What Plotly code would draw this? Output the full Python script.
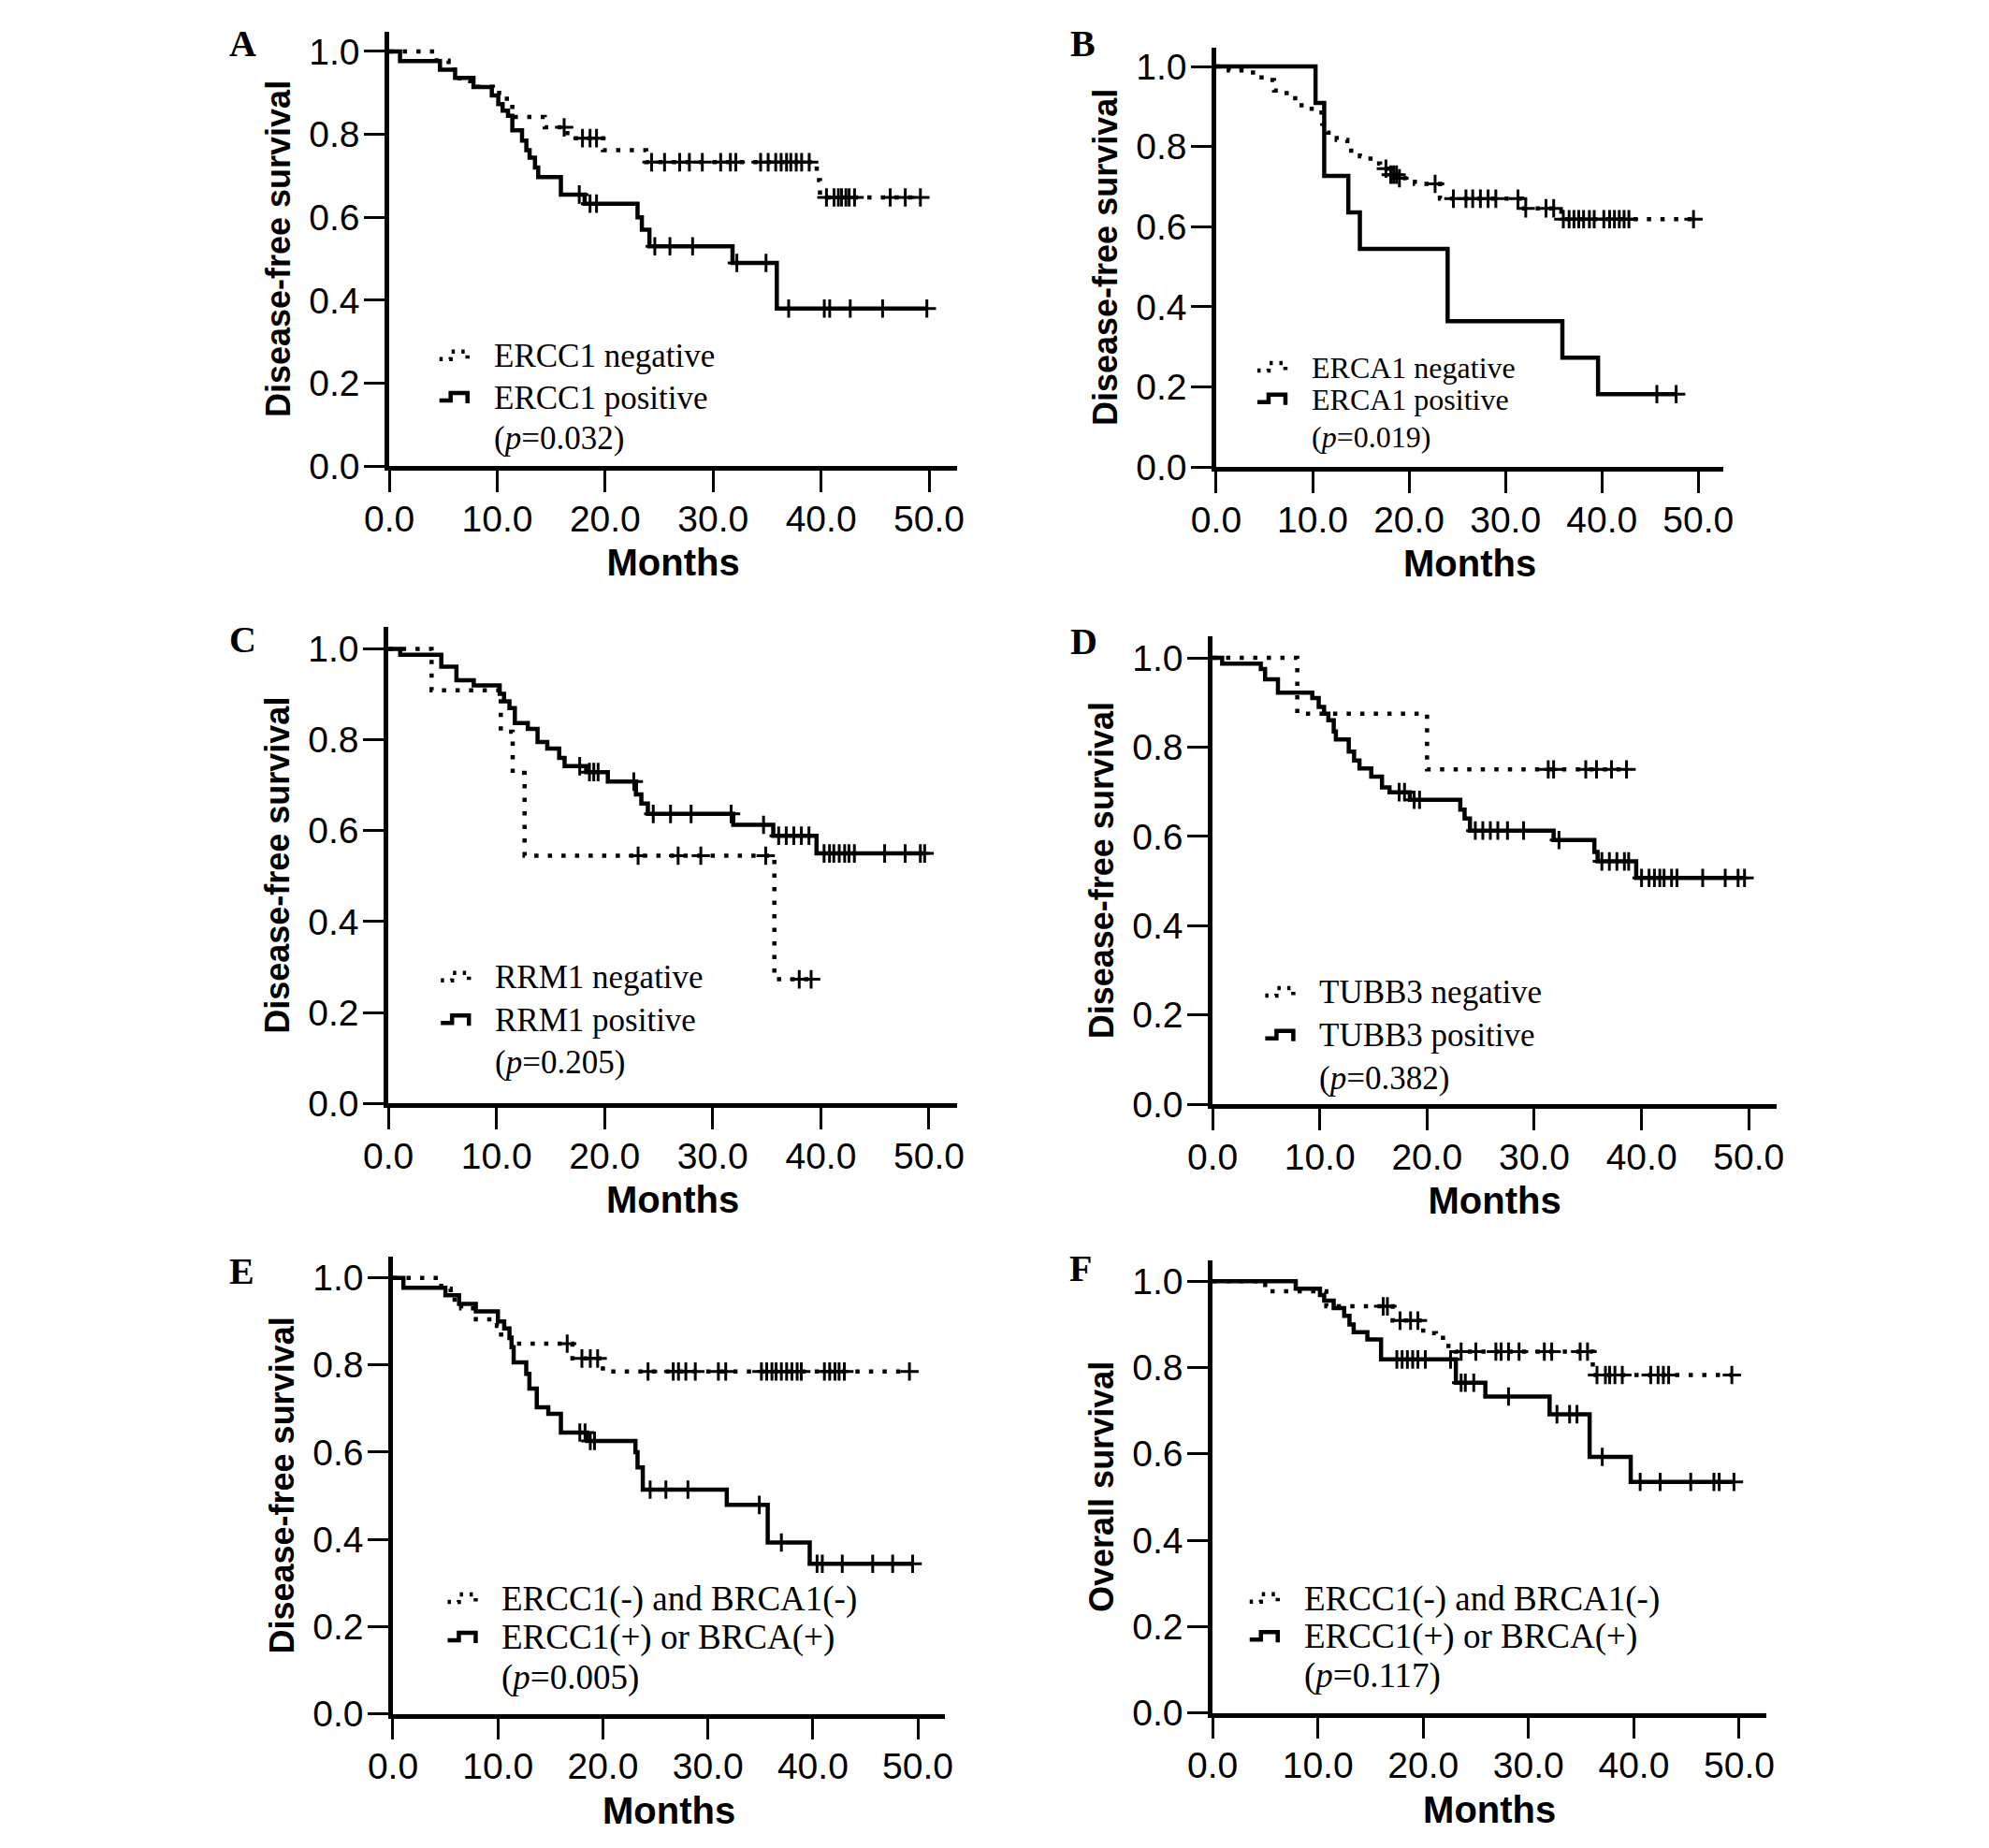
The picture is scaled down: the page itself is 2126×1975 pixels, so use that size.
import numpy as np
import plotly.graph_objects as go

# ---- data (months, survival) ----
X_TICKS = [0, 10, 20, 30, 40, 50]
Y_TICKS = [0.0, 0.2, 0.4, 0.6, 0.8, 1.0]

# A: ERCC1
A_NEG_T = [4.4, 5.5, 6.5, 7.5, 9.6, 10.6, 11.4, 14.4, 16.5, 19.8, 23.8, 39.6, 39.9]
A_NEG_S = [0.978, 0.956, 0.93, 0.915, 0.90, 0.886, 0.842, 0.817, 0.791, 0.762, 0.733, 0.69, 0.648]
A_NEG_C = [16.2, 17.9, 18.6, 19.2, 24.3, 25.5, 26.9, 27.8, 29.0, 30.7, 31.6, 32.1, 34.4, 35.1,
           35.8, 36.3, 36.8, 37.2, 37.7, 38.2, 38.9, 40.5, 41.2, 41.6, 41.9, 42.3, 42.6, 43.1,
           46.4, 47.8, 49.2]
A_POS_T = [1.0, 4.7, 6.1, 7.8, 9.5, 10.1, 10.5, 11.0, 11.4, 12.3, 12.7, 13.0, 13.5, 13.8,
           15.9, 18.1, 23.0, 23.4, 24.1, 31.8, 35.9]
A_POS_S = [0.977, 0.956, 0.936, 0.914, 0.894, 0.873, 0.857, 0.845, 0.810, 0.785, 0.762, 0.744,
           0.72, 0.697, 0.655, 0.633, 0.60, 0.57, 0.53, 0.49, 0.38]
A_POS_C = [17.6, 18.6, 19.2, 24.6, 26.0, 28.1, 32.2, 34.9, 37.0, 40.3, 40.8, 42.7, 45.7, 49.8]

# B: ERCA1
B_NEG_T = [1.3, 3.1, 4.7, 6.0, 7.3, 8.6, 9.9, 11.0, 11.5, 12.5, 13.6, 14.9, 16.0, 17.0, 18.0,
           18.8, 19.6, 20.6, 23.2, 31.7, 35.8]
B_NEG_S = [0.99, 0.985, 0.966, 0.94, 0.921, 0.903, 0.885, 0.857, 0.835, 0.817, 0.79, 0.776,
           0.758, 0.745, 0.73, 0.721, 0.712, 0.707, 0.670, 0.646, 0.619]
B_NEG_C = [17.6, 18.1, 18.4, 18.7, 19.0, 22.7, 24.6, 25.9, 26.6, 27.4, 28.2, 29.0, 31.3, 32.1,
           34.2, 35.0, 36.0, 36.6, 37.1, 37.6, 38.1, 38.7, 39.2, 40.2, 40.8, 41.3, 41.8, 42.3,
           42.8, 49.5]
B_POS_T = [10.3, 11.2, 13.7, 14.9, 24.0, 35.9, 39.6]
B_POS_S = [0.909, 0.727, 0.636, 0.545, 0.364, 0.273, 0.182]
B_POS_C = [45.7, 47.7]

# C: RRM1
C_NEG_T = [4.0, 10.4, 11.5, 12.6, 35.7]
C_NEG_S = [0.909, 0.818, 0.727, 0.545, 0.273]
C_NEG_C = [23.1, 26.8, 28.9, 34.9, 38.0, 39.1]
C_POS_T = [1.1, 4.9, 6.3, 7.9, 10.3, 10.7, 11.2, 11.7, 12.9, 13.8, 14.7, 15.8, 16.3, 18.3,
           20.3, 22.9, 23.4, 24.0, 31.9, 35.6, 39.6]
C_POS_S = [0.987, 0.961, 0.931, 0.92, 0.901, 0.885, 0.87, 0.837, 0.824, 0.795, 0.781, 0.76,
           0.742, 0.729, 0.708, 0.68, 0.66, 0.637, 0.613, 0.589, 0.55]
C_POS_C = [17.7, 18.6, 19.0, 19.4, 22.7, 24.5, 26.1, 28.0, 31.7, 34.7, 36.1, 36.8, 37.5, 38.2,
           38.9, 40.3, 40.8, 41.2, 41.7, 42.2, 42.6, 43.1, 45.9, 47.8, 49.2, 49.6]

# D: TUBB3
D_NEG_T = [7.9, 20.0]
D_NEG_S = [0.875, 0.75]
D_NEG_C = [31.3, 31.8, 34.8, 35.8, 37.2, 38.6]
D_POS_T = [0.9, 4.5, 4.9, 6.1, 9.3, 9.9, 10.4, 10.8, 11.3, 11.5, 12.7, 13.2, 13.7, 14.8, 15.8,
           16.5, 18.4, 23.1, 23.5, 24.0, 31.8, 35.6, 35.9, 39.5]
D_POS_S = [0.987, 0.975, 0.952, 0.922, 0.91, 0.89, 0.875, 0.86, 0.835, 0.817, 0.79, 0.77,
           0.752, 0.734, 0.71, 0.699, 0.682, 0.66, 0.64, 0.613, 0.592, 0.565, 0.544, 0.507]
D_POS_C = [17.4, 17.9, 18.8, 19.3, 24.5, 25.2, 25.9, 26.6, 27.5, 29.0, 32.3, 36.3, 37.0, 37.7,
           38.4, 38.8, 40.0, 40.7, 41.2, 41.7, 42.1, 42.8, 43.3, 45.7, 47.8, 49.0, 49.6]

# E: ERCC1/BRCA1 combined, disease-free survival
E_NEG_T = [4.6, 5.5, 6.5, 7.9, 9.9, 10.3, 11.3, 17.1, 20.0]
E_NEG_S = [0.975, 0.95, 0.93, 0.905, 0.89, 0.87, 0.849, 0.815, 0.785]
E_NEG_C = [16.6, 18.0, 18.8, 19.5, 24.3, 26.7, 27.2, 27.9, 28.8, 31.0, 31.7, 35.1, 35.6, 36.1,
           36.5, 37.0, 37.5, 38.0, 38.5, 38.9, 41.1, 41.6, 42.1, 42.5, 43.0, 49.2]
E_POS_T = [1.0, 5.0, 6.3, 7.9, 10.0, 10.6, 11.1, 11.3, 11.5, 12.7, 13.0, 13.7, 14.8, 16.0,
           18.5, 23.1, 23.3, 23.8, 31.8, 35.7, 39.7]
E_POS_S = [0.977, 0.96, 0.94, 0.923, 0.90, 0.884, 0.862, 0.841, 0.806, 0.78, 0.746, 0.703,
           0.688, 0.645, 0.626, 0.60, 0.565, 0.514, 0.479, 0.393, 0.344]
E_POS_C = [17.8, 18.3, 18.8, 19.2, 24.5, 26.0, 28.1, 34.9, 37.0, 40.4, 40.9, 42.8, 45.7, 47.6,
           49.5]

# F: ERCC1/BRCA1 combined, overall survival
F_NEG_T = [5.0, 10.8, 17.1, 20.0, 21.2, 22.4, 23.1, 36.1]
F_NEG_S = [0.977, 0.942, 0.909, 0.88, 0.869, 0.85, 0.837, 0.783]
F_NEG_C = [16.2, 16.6, 17.8, 18.8, 19.5, 23.6, 25.0, 26.9, 27.4, 28.1, 29.1, 31.5, 32.2, 34.9,
           35.6, 36.5, 37.3, 37.7, 38.2, 38.9, 41.6, 42.3, 42.8, 43.3, 49.3]
F_POS_T = [7.9, 10.2, 10.6, 11.5, 12.5, 13.0, 13.4, 14.7, 16.0, 23.1, 25.9, 32.0, 35.8, 39.7]
F_POS_S = [0.983, 0.968, 0.955, 0.938, 0.92, 0.90, 0.882, 0.865, 0.819, 0.765, 0.733, 0.692,
           0.593, 0.535]
F_POS_C = [17.5, 18.0, 18.5, 19.0, 19.5, 20.2, 22.6, 23.6, 24.0, 24.8, 28.1, 32.7, 33.9, 34.6,
           37.0, 40.6, 42.5, 45.4, 47.6, 48.1, 49.5]

LETTERS = ["A", "B", "C", "D", "E", "F"]
Y_TITLES = ["Disease-free survival"] * 5 + ["Overall survival"]
NEG_LABELS = ["ERCC1 negative", "ERCA1 negative", "RRM1 negative", "TUBB3 negative",
              "ERCC1(-) and BRCA1(-)", "ERCC1(-) and BRCA1(-)"]
POS_LABELS = ["ERCC1 positive", "ERCA1 positive", "RRM1 positive", "TUBB3 positive",
              "ERCC1(+) or BRCA(+)", "ERCC1(+) or BRCA(+)"]
P_VALUES = ["0.032", "0.019", "0.205", "0.382", "0.005", "0.117"]

CURVES = [
    (A_NEG_T, A_NEG_S, A_NEG_C, A_POS_T, A_POS_S, A_POS_C),
    (B_NEG_T, B_NEG_S, B_NEG_C, B_POS_T, B_POS_S, B_POS_C),
    (C_NEG_T, C_NEG_S, C_NEG_C, C_POS_T, C_POS_S, C_POS_C),
    (D_NEG_T, D_NEG_S, D_NEG_C, D_POS_T, D_POS_S, D_POS_C),
    (E_NEG_T, E_NEG_S, E_NEG_C, E_POS_T, E_POS_S, E_POS_C),
    (F_NEG_T, F_NEG_S, F_NEG_C, F_POS_T, F_POS_S, F_POS_C),
]

# ---- layout (pixels in a 2126 x 1975 page) ----
W, H = 2126, 1975
DX, DY = -8, -8   # the page body margin pushes the figure 8px right and down
# left, right, bottom, top of each plot area
BOXES = [(396, 1014, 503, 33), (1296, 1848, 504, 50),
         (395, 1014, 1192, 677), (1292, 1906, 1193, 687),
         (400, 1001, 1852, 1358), (1292, 1895, 1851, 1362)]
LETTER_POS = [(237, 46), (1151, 46), (237, 690), (1152, 692), (236, 1373), (1148, 1370)]
# legend text start (months) and the three row heights (survival units)
LEG_X = [9.5, 9.7, 9.7, 9.8, 10.2, 8.5]
LEG_Y = [(0.265, 0.165, 0.068), (0.248, 0.169, 0.076), (0.277, 0.183, 0.09),
         (0.25, 0.154, 0.059), (0.263, 0.175, 0.082), (0.264, 0.176, 0.085)]
LEG_SIZE = [35, 32, 35, 35, 37, 37]

SANS = "Liberation Sans, Arial, sans-serif"
SERIF = "Liberation Serif, Times New Roman, serif"


def km_xy(t, s, c):
    end = max(max(c) if c else 0, t[-1])
    return [0.0] + list(t) + [end], [1.0] + list(s) + [s[-1]]


def censor_y(t, s, c):
    idx = np.searchsorted(np.asarray(t), np.asarray(c), side="right") - 1
    s = np.asarray(s)
    return np.where(idx >= 0, s[np.clip(idx, 0, None)], 1.0)


fig = go.Figure()
layout = {}
annotations = []
shapes = []

for i, (nt, ns, nc, pt, ps, pc) in enumerate(CURVES):
    n = "" if i == 0 else str(i + 1)
    xa, ya = "x" + n, "y" + n
    x0, x1, yb, yt = BOXES[i]
    x0, x1, yb, yt = x0 + DX, x1 + DX, yb + DY, yt + DY

    for t, s, c, dash in [(nt, ns, nc, "4.5px,10px"), (pt, ps, pc, "solid")]:
        kx, ky = km_xy(t, s, c)
        fig.add_trace(go.Scatter(
            x=kx, y=ky, mode="lines", line=dict(shape="hv", color="black", width=4.5, dash=dash),
            xaxis=xa, yaxis=ya, showlegend=False, hoverinfo="skip"))
        fig.add_trace(go.Scatter(
            x=c, y=censor_y(t, s, c), mode="markers",
            marker=dict(symbol="cross-thin-open", size=14, color="black",
                        line=dict(color="black", width=3)),
            xaxis=xa, yaxis=ya, showlegend=False, hoverinfo="skip"))

    layout["xaxis" + n] = dict(
        domain=[x0 / W, x1 / W], anchor=ya, range=[0, 52.6],
        tickmode="array", tickvals=X_TICKS, tickformat=".1f",
        showline=True, linecolor="black", linewidth=4.5, ticks="outside", ticklen=23,
        tickwidth=3, tickcolor="black", showgrid=False, zeroline=False,
        tickfont=dict(family=SANS, size=39, color="black"), ticklabelstandoff=-5,
        title=dict(text="<b>Months</b>", font=dict(family=SANS, size=40, color="black"),
                   standoff=14))
    layout["yaxis" + n] = dict(
        domain=[1 - yb / H, 1 - yt / H], anchor=xa, range=[0, 1.048],
        tickmode="array", tickvals=Y_TICKS, tickformat=".1f",
        showline=True, linecolor="black", linewidth=4.5, ticks="outside", ticklen=22,
        tickwidth=3, tickcolor="black", showgrid=False, zeroline=False,
        tickfont=dict(family=SANS, size=39, color="black"), ticklabelstandoff=-3,
        title=dict(text="<b>%s</b>" % Y_TITLES[i], font=dict(family=SANS, size=36, color="black"),
                   standoff=10))

    lx, ly, fs = LEG_X[i], LEG_Y[i], LEG_SIZE[i]
    texts = [NEG_LABELS[i], POS_LABELS[i], "(<i>p</i>=%s)" % P_VALUES[i]]
    for txt, yy in zip(texts, ly):
        annotations.append(dict(
            x=lx, y=yy, xref=xa, yref=ya, text=txt, showarrow=False,
            xanchor="left", yanchor="middle", font=dict(family=SERIF, size=fs, color="black")))
    icon = "M-56,-3 H-44 V5 H-26 V-6"
    for yy, dash in [(ly[0], "3.5px,7px"), (ly[1], "solid")]:
        shapes.append(dict(
            type="path", xref=xa, yref=ya, xsizemode="pixel", ysizemode="pixel",
            xanchor=lx, yanchor=yy, path=icon,
            line=dict(color="black", width=4.5, dash=dash)))

    px, py = LETTER_POS[i]
    annotations.append(dict(
        x=(px + DX) / W, y=1 - (py + DY) / H, xref="paper", yref="paper",
        text="<b>%s</b>" % LETTERS[i], showarrow=False, xanchor="center", yanchor="middle",
        font=dict(family=SERIF, size=40, color="black")))

fig.update_layout(
    width=W, height=H, margin=dict(l=0, r=0, t=0, b=0),
    paper_bgcolor="white", plot_bgcolor="white", showlegend=False,
    annotations=annotations, shapes=shapes, **layout)

fig.write_html("out.html")
